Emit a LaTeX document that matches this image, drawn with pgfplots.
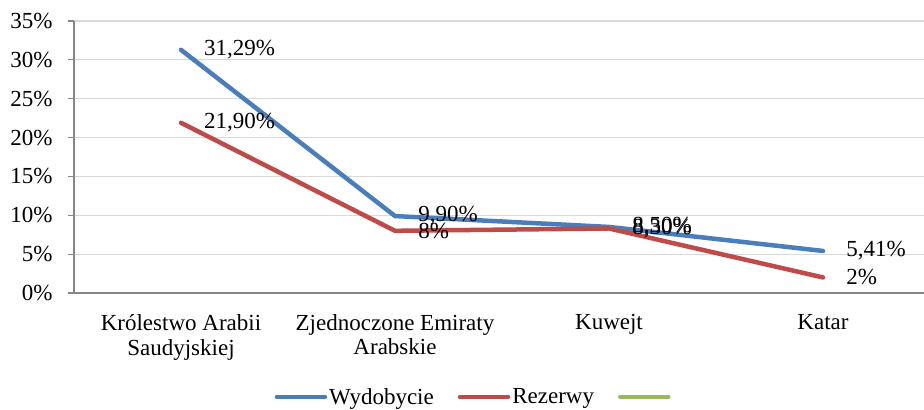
\documentclass[border=0pt]{standalone}
\usepackage{fontspec}
\setmainfont{Liberation Serif}
\usepackage{pgfplots}
\pgfplotsset{compat=1.18}
\definecolor{cblue}{HTML}{4A7EBB}
\definecolor{cred}{HTML}{BE4B48}
\definecolor{cgreen}{HTML}{98B954}
\definecolor{axgray}{HTML}{868686}
\definecolor{grgray}{HTML}{D9D9D9}
\newcommand{\bigf}{\fontsize{23}{24.5}\selectfont}
\begin{document}
\begin{tikzpicture}[font=\bigf]
\begin{axis}[
  scale only axis,
  width=856pt, height=272pt,
  xmin=-0.5, xmax=3.5,
  ymin=0, ymax=35,
  axis x line=bottom, axis y line=left,
  axis line style={-, color=axgray, line width=1.5pt},
  ytick={0,5,...,35},
  yticklabel={\pgfmathprintnumber{\tick}\%},
  /pgf/number format/assume math mode=true,
  ymajorgrids,
  grid style={color=grgray, line width=1.2pt},
  major tick length=6pt,
  tick align=outside,
  tick style={color=axgray, line width=1.2pt},
  tick label style={font=\bigf},
  xtick={0,1,2,3},
  xticklabels={Królestwo Arabii\\Saudyjskiej, Zjednoczone Emiraty\\Arabskie, Kuwejt, Katar},
  xticklabel style={align=center, yshift=-12pt},
  x tick style={draw=none},
  extra x ticks={-0.5,0.5,1.5,2.5,3.5},
  extra x tick labels={},
  extra x tick style={tick style={color=axgray, line width=1.2pt, draw=axgray}, major tick length=6pt, tick align=outside},
  yticklabel style={xshift=-12pt},
  clip=false,
  legend columns=3,
  legend style={draw=none, font=\bigf, at={(axis description cs:0.468,-0.382)}, anchor=center,
    /tikz/every even column/.append style={column sep=22pt}},
  legend image code/.code={\draw[#1, line width=4.5pt, line cap=round] (0pt,0pt) -- (48pt,0pt);},
  nodes near coords,
  point meta=explicit symbolic,
  every node near coord/.style={anchor=west, xshift=20pt, inner sep=1pt, color=black, font=\bigf},
]
\addplot[color=cblue, line width=4.5pt, line cap=round, line join=round, mark=none]
  coordinates {(0,31.29) [31,29\%] (1,9.90) [9,90\%] (2,8.50) [8,50\%] (3,5.41) [5,41\%]};
\addlegendentry{Wydobycie}
\addplot[color=cred, line width=4.5pt, line cap=round, line join=round, mark=none]
  coordinates {(0,21.90) [21,90\%] (1,8.0) [8\%] (2,8.30) [8,30\%] (3,2.0) [2\%]};
\addlegendentry{Rezerwy}
\addlegendimage{color=cgreen}
\addlegendentry{}
\coordinate (BL) at (rel axis cs:0,0);
\coordinate (TR) at (rel axis cs:1,1);
\end{axis}
\pgfresetboundingbox
\path[use as bounding box] ([xshift=-74pt,yshift=-117pt]BL) rectangle ([xshift=-6pt,yshift=21pt]TR);
\end{tikzpicture}
\end{document}
